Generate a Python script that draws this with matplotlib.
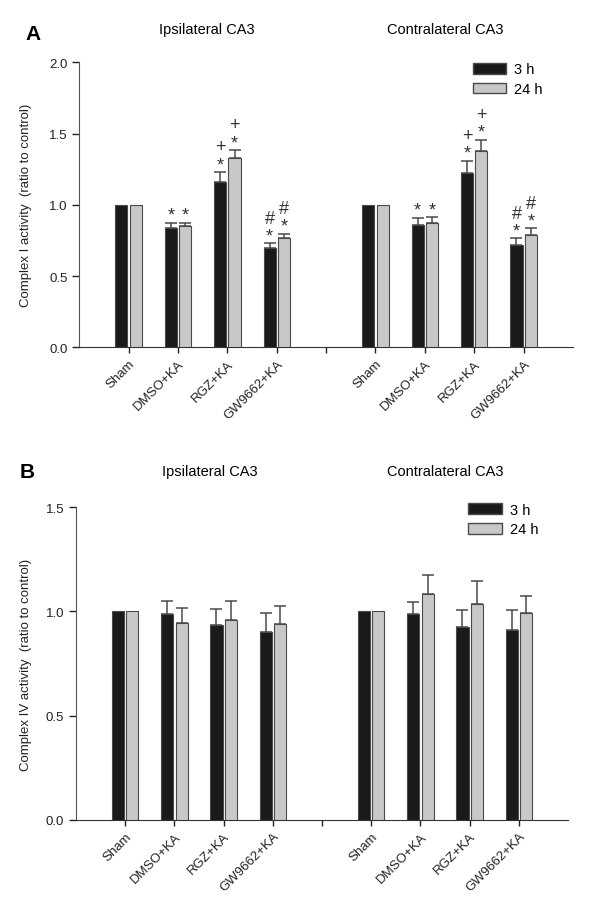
import matplotlib
matplotlib.use("Agg")
import matplotlib.pyplot as plt
from matplotlib.patches import Patch
import numpy as np

plt.rcParams['font.family'] = ['Liberation Sans', 'DejaVu Sans']

groups = ['Sham', 'DMSO+KA', 'RGZ+KA', 'GW9662+KA']

# panel A - complex I
a_ipsi_3h = [1.0, 0.84, 1.16, 0.70]
a_ipsi_3h_err = [0, 0.035, 0.07, 0.03]
a_ipsi_24h = [1.0, 0.85, 1.33, 0.77]
a_ipsi_24h_err = [0, 0.025, 0.055, 0.027]
a_contra_3h = [1.0, 0.855, 1.22, 0.72]
a_contra_3h_err = [0, 0.055, 0.09, 0.044]
a_contra_24h = [1.0, 0.875, 1.38, 0.79]
a_contra_24h_err = [0, 0.04, 0.077, 0.045]

# significance marks (lower, upper)
a_ipsi_3h_sig = [('', ''), ('*', ''), ('*', '+'), ('*', '#')]
a_ipsi_24h_sig = [('', ''), ('*', ''), ('*', '+'), ('*', '#')]
a_contra_3h_sig = [('', ''), ('*', ''), ('*', '+'), ('*', '#')]
a_contra_24h_sig = [('', ''), ('*', ''), ('*', '+'), ('*', '#')]

# panel B - complex IV
b_ipsi_3h = [1.0, 0.99, 0.936, 0.902]
b_ipsi_3h_err = [0, 0.061, 0.078, 0.093]
b_ipsi_24h = [1.0, 0.946, 0.957, 0.938]
b_ipsi_24h_err = [0, 0.072, 0.094, 0.086]
b_contra_3h = [1.0, 0.989, 0.923, 0.910]
b_contra_3h_err = [0, 0.058, 0.082, 0.097]
b_contra_24h = [1.0, 1.082, 1.038, 0.994]
b_contra_24h_err = [0, 0.091, 0.106, 0.08]

BLACK = '#1a1a1a'
GRAY = '#c8c8c8'
EDGE = '#4a4a4a'
W = 0.245
OFF = 0.145

fig = plt.figure(figsize=(6, 9.04), dpi=100)


def draw_bars(ax, x, vals, errs, color, sig=None):
    ax.bar(x, vals, width=W, color=color, edgecolor=EDGE, linewidth=0.8, zorder=3)
    for xi, v, e in zip(x, vals, errs):
        if e > 0:
            ax.errorbar(xi, v, yerr=[[0], [e]], fmt='none', ecolor=EDGE,
                        elinewidth=1.1, capsize=4, capthick=1.1, zorder=2)
    if sig:
        for xi, v, e, (s1, s2) in zip(x, vals, errs, sig):
            top = v + e
            if s1:
                ax.text(xi, top + 0.02, s1, ha='center', va='baseline', fontsize=13, color='#333333')
            if s2:
                ax.text(xi, top + 0.145, s2, ha='center', va='baseline', fontsize=13, color='#333333')


def setup(ax, ymax, ylabel, lab_x):
    ax.set_xlim(-1, 9)
    ax.set_ylim(0, ymax)
    ax.set_yticks(np.arange(0, ymax + 0.01, 0.5))
    ax.yaxis.set_major_formatter(matplotlib.ticker.FormatStrFormatter('%.1f'))
    ax.set_xticks(range(9))
    ax.set_xticklabels(groups + [''] + groups, rotation=45, ha='right',
                       rotation_mode='anchor', fontsize=9.5)
    ax.tick_params(axis='y', labelsize=9.5, length=5, width=1, colors='#222222')
    ax.tick_params(axis='x', length=4, width=1, colors='#222222')
    for s in ['top', 'right']:
        ax.spines[s].set_visible(False)
    ax.spines['left'].set_color('#555555')
    ax.spines['bottom'].set_color('#333333')
    ax.set_ylabel(ylabel, fontsize=9.5, color='#222222')
    ax.yaxis.set_label_coords(lab_x, 0.5)


xi = np.arange(4)
xc = np.arange(5, 9)

# ---- panel A
axA = fig.add_axes([0.132, 0.6147, 0.823, 0.3153])
draw_bars(axA, xi - OFF, a_ipsi_3h, a_ipsi_3h_err, BLACK, a_ipsi_3h_sig)
draw_bars(axA, xi + OFF, a_ipsi_24h, a_ipsi_24h_err, GRAY, a_ipsi_24h_sig)
draw_bars(axA, xc - OFF, a_contra_3h, a_contra_3h_err, BLACK, a_contra_3h_sig)
draw_bars(axA, xc + OFF, a_contra_24h, a_contra_24h_err, GRAY, a_contra_24h_sig)
setup(axA, 2.0, 'Complex I activity  (ratio to control)', -0.095)

# ---- panel B
axB = fig.add_axes([0.1267, 0.0921, 0.82, 0.3456])
draw_bars(axB, xi - OFF, b_ipsi_3h, b_ipsi_3h_err, BLACK)
draw_bars(axB, xi + OFF, b_ipsi_24h, b_ipsi_24h_err, GRAY)
draw_bars(axB, xc - OFF, b_contra_3h, b_contra_3h_err, BLACK)
draw_bars(axB, xc + OFF, b_contra_24h, b_contra_24h_err, GRAY)
setup(axB, 1.5, 'Complex IV activity  (ratio to control)', -0.09)

handles = [Patch(facecolor=BLACK, edgecolor=EDGE, label='3 h'),
           Patch(facecolor=GRAY, edgecolor=EDGE, label='24 h')]
for ax, top in [(axA, 1.0), (axB, 1.015)]:
    ax.legend(handles=handles, loc='upper left', bbox_to_anchor=(0.797, top),
              frameon=False, fontsize=10.5, handlelength=2.3, handleheight=0.75,
              handletextpad=0.55, borderpad=0, borderaxespad=0, labelspacing=0.4)

# titles and panel letters
fig.text(207 / 600, 1 - 30 / 904, 'Ipsilateral CA3', ha='center', va='center', fontsize=10.5)
fig.text(445 / 600, 1 - 30 / 904, 'Contralateral CA3', ha='center', va='center', fontsize=10.5)
fig.text(210 / 600, 1 - 472 / 904, 'Ipsilateral CA3', ha='center', va='center', fontsize=10.5)
fig.text(445 / 600, 1 - 472 / 904, 'Contralateral CA3', ha='center', va='center', fontsize=10.5)
fig.text(25 / 600, 1 - 34 / 904, 'A', ha='left', va='center', fontsize=15, fontweight='bold')
fig.text(20 / 600, 1 - 473 / 904, 'B', ha='left', va='center', fontsize=15, fontweight='bold')

fig.savefig('out.png', dpi=100)
